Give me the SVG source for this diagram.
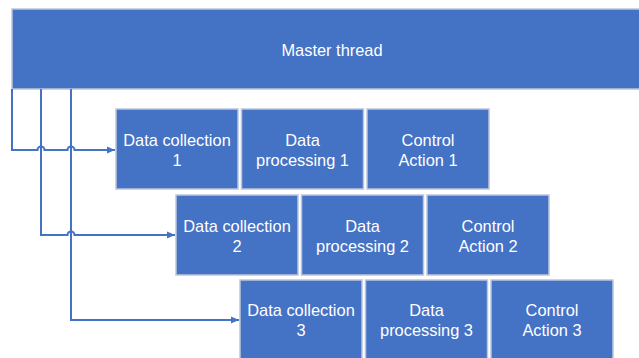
<svg xmlns="http://www.w3.org/2000/svg" width="639" height="358" viewBox="0 0 639 358">
  <defs>
    <style>
      .box { fill: #4472C4; stroke: #BCC6DA; stroke-width: 1.5; }
      .lbl { fill: #FFFFFF; font-family: "Liberation Sans", Arial, sans-serif; font-size: 16.4px; text-anchor: middle; }
      .wire { fill: none; stroke: #4472C4; stroke-width: 2; }
    </style>
    <marker id="arrow" viewBox="0 0 10 10" refX="10" refY="5" markerWidth="4.2" markerHeight="3.6" markerUnits="strokeWidth" orient="auto" preserveAspectRatio="none">
      <path d="M0,0 L10,5 L0,10 z" fill="#4472C4"/>
    </marker>
  </defs>

  <rect width="639" height="358" fill="#FFFFFF"/>

  <!-- master -->
  <g id="master">
    <rect class="box" x="12" y="9" width="640" height="80"/>
    <text class="lbl" x="332" y="55.5">Master thread</text>
  </g>

  <!-- connectors from the master bar to each data collection stage -->
  <g id="connectors">
    <path class="wire" marker-end="url(#arrow)" d="M12,89 V150 H37.5 A3.5,3.5 0 0 1 44.5,150 H67.5 A3.5,3.5 0 0 1 74.5,150 H115"/>
    <path class="wire" marker-end="url(#arrow)" d="M41,89 V235 H67.5 A3.5,3.5 0 0 1 74.5,235 H175"/>
    <path class="wire" marker-end="url(#arrow)" d="M71,89 V320 H239"/>
  </g>

  <!-- row 1 -->
  <g id="collect1">
    <rect class="box" x="116" y="109" width="122" height="80"/>
    <text class="lbl" x="177" y="145.5">Data collection</text>
    <text class="lbl" x="177" y="165.5">1</text>
  </g>
  <g id="process1">
    <rect class="box" x="241.5" y="109" width="122" height="80"/>
    <text class="lbl" x="302.5" y="145.5">Data</text>
    <text class="lbl" x="302.5" y="165.5">processing 1</text>
  </g>
  <g id="action1">
    <rect class="box" x="367" y="109" width="122" height="80"/>
    <text class="lbl" x="428" y="145.5">Control</text>
    <text class="lbl" x="428" y="165.5">Action 1</text>
  </g>

  <!-- row 2 -->
  <g id="collect2">
    <rect class="box" x="176" y="195" width="122" height="80"/>
    <text class="lbl" x="237" y="231.5">Data collection</text>
    <text class="lbl" x="237" y="251.5">2</text>
  </g>
  <g id="process2">
    <rect class="box" x="301.5" y="195" width="122" height="80"/>
    <text class="lbl" x="362.5" y="231.5">Data</text>
    <text class="lbl" x="362.5" y="251.5">processing 2</text>
  </g>
  <g id="action2">
    <rect class="box" x="427" y="195" width="122" height="80"/>
    <text class="lbl" x="488" y="231.5">Control</text>
    <text class="lbl" x="488" y="251.5">Action 2</text>
  </g>

  <!-- row 3 -->
  <g id="collect3">
    <rect class="box" x="240" y="280" width="122" height="80"/>
    <text class="lbl" x="301" y="316">Data collection</text>
    <text class="lbl" x="301" y="336">3</text>
  </g>
  <g id="process3">
    <rect class="box" x="365.5" y="280" width="122" height="80"/>
    <text class="lbl" x="426.5" y="316">Data</text>
    <text class="lbl" x="426.5" y="336">processing 3</text>
  </g>
  <g id="action3">
    <rect class="box" x="491" y="280" width="122" height="80"/>
    <text class="lbl" x="552" y="316">Control</text>
    <text class="lbl" x="552" y="336">Action 3</text>
  </g>
</svg>
